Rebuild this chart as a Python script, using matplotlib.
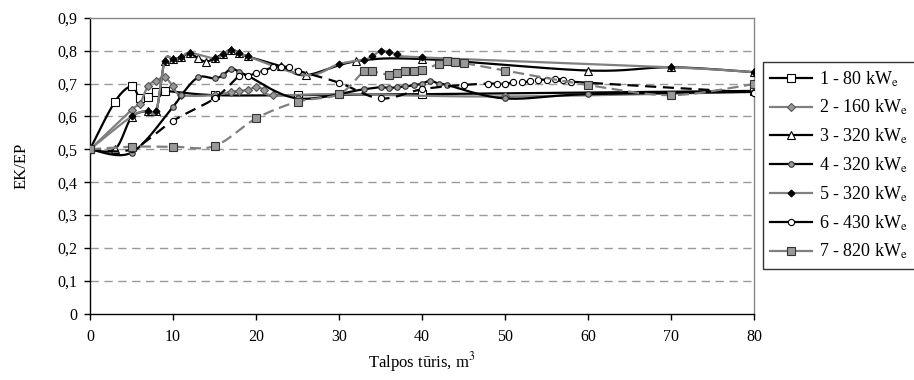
import numpy as np
import matplotlib
matplotlib.use("Agg")
import matplotlib.pyplot as plt
from matplotlib.lines import Line2D

plt.rcParams['font.family'] = ['Liberation Serif', 'DejaVu Serif']
plt.rcParams['mathtext.fontset'] = 'stix'

# ---- data ----
s1_x = [0, 3, 5, 6, 7, 8, 9, 15, 25, 40, 80]
s1_y = [0.50, 0.645, 0.692, 0.655, 0.658, 0.675, 0.678, 0.665, 0.665, 0.668, 0.678]

s2_x = [0, 5, 6, 7, 8, 9, 10, 11, 15, 17, 18, 19, 20, 21, 22, 30, 50, 80]
s2_y = [0.50, 0.62, 0.638, 0.694, 0.709, 0.72, 0.692, 0.665, 0.665, 0.676, 0.677,
        0.682, 0.689, 0.682, 0.665, 0.668, 0.661, 0.675]

s3_x = [0, 3, 5, 7, 8, 9, 10, 11, 12, 13, 14, 15, 16, 17, 18, 19, 23, 26, 32, 40, 60, 70, 80]
s3_y = [0.50, 0.50, 0.597, 0.617, 0.617, 0.77, 0.775, 0.78, 0.794, 0.777, 0.767, 0.777,
        0.79, 0.804, 0.794, 0.783, 0.753, 0.726, 0.768, 0.775, 0.74, 0.75, 0.735]

s4_x = [0, 5, 10, 11, 13, 15, 16, 17, 18, 19, 25, 33, 35, 36, 37, 38, 39, 40, 41, 42, 43, 50, 60, 80]
s4_y = [0.50, 0.49, 0.63, 0.665, 0.719, 0.716, 0.726, 0.745, 0.736, 0.724, 0.655, 0.683,
        0.689, 0.687, 0.689, 0.692, 0.695, 0.70, 0.709, 0.70, 0.696, 0.655, 0.668, 0.675]

s5_x = [0, 5, 7, 8, 9, 10, 11, 12, 15, 16, 17, 18, 19, 26, 30, 33, 34, 35, 36, 37, 40, 70, 80]
s5_y = [0.50, 0.60, 0.617, 0.617, 0.77, 0.775, 0.78, 0.794, 0.777, 0.79, 0.804, 0.794,
        0.783, 0.726, 0.76, 0.773, 0.783, 0.80, 0.796, 0.79, 0.78, 0.75, 0.735]
s5_hidden = [26]  # point on the line without a visible marker

s6_x = [0, 5, 10, 15, 18, 19, 20, 21, 22, 23, 24, 25, 30, 35, 40, 45,
        48, 49, 50, 51, 52, 53, 54, 55, 56, 57, 58, 80]
s6_y = [0.50, 0.50, 0.587, 0.655, 0.724, 0.724, 0.732, 0.74, 0.75, 0.752, 0.75, 0.74,
        0.703, 0.655, 0.683, 0.696, 0.70, 0.70, 0.70, 0.704, 0.704, 0.707, 0.712,
        0.712, 0.714, 0.712, 0.706, 0.673]

s7_x = [0, 5, 10, 15, 20, 25, 30, 33, 34, 36, 37, 38, 39, 40, 42, 43, 44, 45, 50, 60, 70, 80]
s7_y = [0.50, 0.508, 0.508, 0.51, 0.594, 0.645, 0.668, 0.738, 0.738, 0.727, 0.733, 0.74,
        0.74, 0.742, 0.76, 0.77, 0.767, 0.763, 0.74, 0.696, 0.665, 0.699]

labels = ["1 - 80 kW$_{\\rm e}$", "2 - 160 kW$_{\\rm e}$", "3 - 320 kW$_{\\rm e}$",
          "4 - 320 kW$_{\\rm e}$", "5 - 320 kW$_{\\rm e}$", "6 - 430 kW$_{\\rm e}$",
          "7 - 820 kW$_{\\rm e}$"]
y_ticks = [0, 0.1, 0.2, 0.3, 0.4, 0.5, 0.6, 0.7, 0.8, 0.9]
y_ticklabels = ["0", "0,1", "0,2", "0,3", "0,4", "0,5", "0,6", "0,7", "0,8", "0,9"]
x_ticks = [0, 10, 20, 30, 40, 50, 60, 70, 80]


def smooth(x, y, n=20):
    """Catmull-Rom style smoothing (like spreadsheet 'smoothed line')."""
    P = np.column_stack([x, y]).astype(float)
    out = [P[0]]
    t = np.linspace(0, 1, n)[1:]
    for i in range(len(P) - 1):
        p0 = P[i - 1] if i > 0 else P[i]
        p1 = P[i]
        p2 = P[i + 1]
        p3 = P[i + 2] if i + 2 < len(P) else P[i + 1]
        c1 = p1 + (p2 - p0) / 6.0
        c2 = p2 - (p3 - p1) / 6.0
        for tt in t:
            b = ((1 - tt) ** 3) * p1 + 3 * ((1 - tt) ** 2) * tt * c1 + 3 * (1 - tt) * tt ** 2 * c2 + tt ** 3 * p2
            out.append(b)
    out = np.array(out)
    return out[:, 0], out[:, 1]


fig = plt.figure(figsize=(9.14, 3.80), dpi=100)
ax = fig.add_axes([90 / 914, 1 - 313.5 / 380, (754 - 90) / 914, (313.5 - 18) / 380])

GRAY = "#808080"
series = [
    dict(x=s1_x, y=s1_y, color="black", ls="-", marker="s", mfc="white", mec="black", ms=5.5),
    dict(x=s2_x, y=s2_y, color=GRAY, ls="-", marker="D", mfc="#999999", mec="#555555", ms=4.5),
    dict(x=s3_x, y=s3_y, color="black", ls="-", marker="^", mfc="white", mec="black", ms=6),
    dict(x=s4_x, y=s4_y, color="black", ls="-", marker="o", mfc="#999999", mec="#333333", ms=4),
    dict(x=s5_x, y=s5_y, color=GRAY, ls="-", marker="D", mfc="black", mec="black", ms=3.5),
    dict(x=s6_x, y=s6_y, color="black", ls=(0, (5, 3)), marker="o", mfc="white", mec="black", ms=4.5),
    dict(x=s7_x, y=s7_y, color=GRAY, ls=(0, (5, 2.5)), marker="s", mfc="#999999", mec="#333333", ms=5.5),
]

handles = []
for i, s in enumerate(series):
    sx, sy = smooth(s["x"], s["y"])
    ax.plot(sx, sy, color=s["color"], ls=s["ls"], lw=1.6, zorder=3 + i, solid_capstyle='butt')
    xs = np.array(s["x"], float)
    ys = np.array(s["y"], float)
    if i == 4:
        keep = np.array([xv not in s5_hidden for xv in s["x"]])
        xs, ys = xs[keep], ys[keep]
    ax.plot(xs, ys, ls="none", marker=s["marker"], mfc=s["mfc"], mec=s["mec"],
            ms=s["ms"], mew=0.8, zorder=3 + i + 0.5)
    handles.append(Line2D([0], [0], color=s["color"], lw=1.6, marker=s["marker"],
                          mfc=s["mfc"], mec=s["mec"], ms=s["ms"], mew=0.8))

ax.set_xlim(0, 80)
ax.set_ylim(0, 0.9)
ax.set_yticks(y_ticks)
ax.set_yticklabels(y_ticklabels)
ax.set_xticks(x_ticks)
for yv in y_ticks[1:-1]:
    ax.axhline(yv, color="#999999", lw=1.0, ls=(0, (6, 4)), zorder=1)

for sp in ["top", "right"]:
    ax.spines[sp].set_color("#888888")
    ax.spines[sp].set_linewidth(1.0)
for sp in ["left", "bottom"]:
    ax.spines[sp].set_color("black")
    ax.spines[sp].set_linewidth(1.0)

ax.tick_params(axis="both", direction="out", length=4, width=1.0, labelsize=11.5, colors="black")
ax.tick_params(axis="x", pad=7)
ax.tick_params(axis="y", pad=5)
ax.set_xlabel("Talpos tūris, m$^3$", fontsize=12, labelpad=4)
ax.set_ylabel("EK/EP", fontsize=12, labelpad=20)

leg = fig.legend(handles, labels, loc="upper left", bbox_to_anchor=(763 / 914, 1 - 62 / 380),
                 fontsize=13, frameon=True, fancybox=False, handlelength=2.3,
                 handletextpad=0.4, labelspacing=0.52, borderpad=0.4, borderaxespad=0)
leg.get_frame().set_edgecolor("black")
leg.get_frame().set_linewidth(1.0)

fig.savefig("out.png", dpi=100)
